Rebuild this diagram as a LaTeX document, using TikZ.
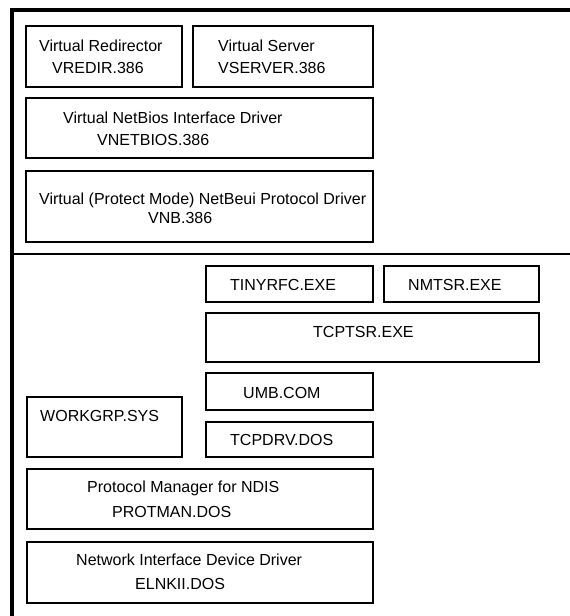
\documentclass[tikz,border=0pt]{standalone}
\usepackage{fontspec}
\setmainfont{Liberation Sans}
\begin{document}
\begin{tikzpicture}[x=1bp,y=-1bp,
  box/.style={draw=black,line width=1.8bp,inner sep=0pt},
  lbl/.style={anchor=west,inner sep=0pt,font=\fontsize{16bp}{18bp}\selectfont},
  frame/.style={line width=3.2bp,line cap=rect},
  divider/.style={line width=2.2bp}]
\useasboundingbox (0,0) rectangle (570,616);
% outer frame
\coordinate (fbl) at (12,616);
\coordinate (ftl) at (12,10);
\coordinate (ftr) at (570,10);
\coordinate (dl) at (12,254);
\coordinate (dr) at (570,254);
\draw[frame] (fbl) -- (ftl) -- (ftr);
\draw[divider] (dl) -- (dr);
% upper boxes
\draw[box] (26,26) rectangle (182,87);
\draw[box] (193,26) rectangle (373,87);
\draw[box] (26,98) rectangle (373,158);
\draw[box] (26,171) rectangle (373,242);
\node[lbl] (t1) at (39,46) {Virtual Redirector};
\node[lbl] (t2) at (52,68) {VREDIR.386};
\node[lbl] (t3) at (218,46) {Virtual Server};
\node[lbl] (t4) at (218,68) {VSERVER.386};
\node[lbl] (t5) at (63,118) {Virtual NetBios Interface Driver};
\node[lbl] (t6) at (97,140) {VNETBIOS.386};
\node[lbl] (t7) at (39,200) {Virtual (Protect Mode) NetBeui Protocol Driver};
\node[lbl] (t8) at (148,218) {VNB.386};
% lower boxes
\draw[box] (206,266) rectangle (373,302);
\draw[box] (384,266) rectangle (539,302);
\draw[box] (206,313) rectangle (539,362);
\draw[box] (206,373) rectangle (373,410);
\draw[box] (27,397) rectangle (182,457);
\draw[box] (206,422) rectangle (373,457);
\draw[box] (27,469) rectangle (373,529);
\draw[box] (27,542) rectangle (373,603);
\node[lbl] (b1) at (230,285) {TINYRFC.EXE};
\node[lbl] (b2) at (408,285) {NMTSR.EXE};
\node[lbl] (b3) at (313,332) {TCPTSR.EXE};
\node[lbl] (b4) at (243,393) {UMB.COM};
\node[lbl] (b5) at (40,416) {WORKGRP.SYS};
\node[lbl] (b6) at (230,440) {TCPDRV.DOS};
\node[lbl] (b7) at (87,488) {Protocol Manager for NDIS};
\node[lbl] (b8) at (112,512) {PROTMAN.DOS};
\node[lbl] (b9) at (76,560) {Network Interface Device Driver};
\node[lbl] (b10) at (135,584) {ELNKII.DOS};
\end{tikzpicture}
\end{document}
